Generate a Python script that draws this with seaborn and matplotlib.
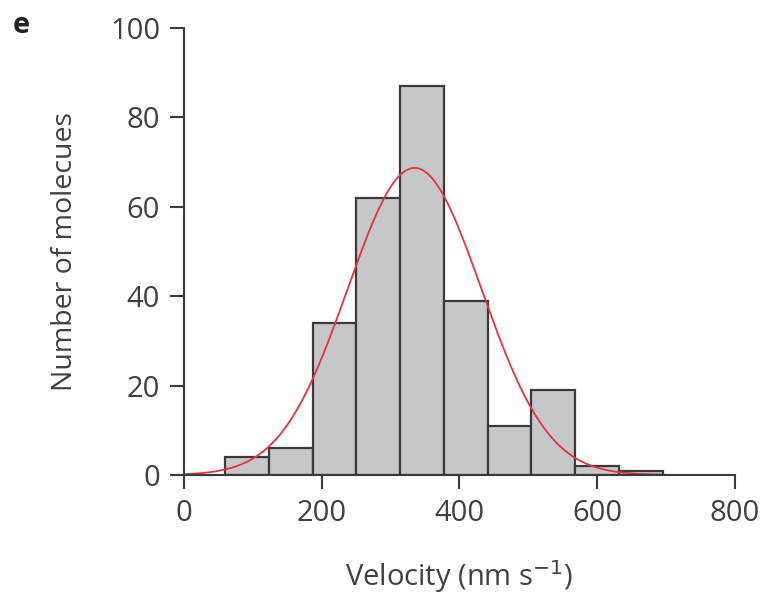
import numpy as np
import matplotlib
matplotlib.use("Agg")
import matplotlib.pyplot as plt
import seaborn as sns

# histogram
bin_edges = [60, 123.5, 187, 250.5, 314, 377.5, 441, 504.5, 568, 631.5, 695]
counts = [4, 6, 34, 62, 87, 39, 11, 19, 2, 1]

# gaussian fit parameters (amplitude, mean, sigma)
fit_amp = 68.7
fit_mean = 335
fit_sigma = 97
fit_range = (0, 700)

sns.set_style("ticks")
plt.rcParams["font.family"] = ["Open Sans", "DejaVu Sans"]

fig = plt.figure(figsize=(7.72, 5.96), dpi=100)
ax = fig.add_axes([0.238, 0.203, 0.714, 0.75])

centers = [(a + b) / 2 for a, b in zip(bin_edges[:-1], bin_edges[1:])]
sns.histplot(x=centers, weights=counts, bins=bin_edges, ax=ax,
             color="#c6c7c9", alpha=1, edgecolor="#3a3a3a", linewidth=1.6)

xs = np.linspace(fit_range[0], fit_range[1], 400)
ys = fit_amp * np.exp(-(xs - fit_mean) ** 2 / (2 * fit_sigma ** 2))
sns.lineplot(x=xs, y=ys, ax=ax, color="#e8323c", linewidth=1.3)

ax.set_xlim(0, 800)
ax.set_ylim(0, 100)
ax.set_xticks([0, 200, 400, 600, 800])
ax.set_yticks([0, 20, 40, 60, 80, 100])
ax.set_xlabel("Velocity (nm s$^{-1}$)", fontsize=21, color="#404040", labelpad=22)
ax.set_ylabel("Number of molecues", fontsize=20.5, color="#404040", labelpad=22)
ax.tick_params(axis="both", length=10, width=1.5, color="#3a3a3a",
               labelsize=21, labelcolor="#404040", pad=7)
for side in ["left", "bottom"]:
    ax.spines[side].set_linewidth(1.5)
    ax.spines[side].set_color("#3a3a3a")
sns.despine(ax=ax)

fig.text(0.016, 0.957, "e", fontsize=21, fontweight="bold", color="#222222",
         va="center")

fig.savefig("out.png", dpi=100)
